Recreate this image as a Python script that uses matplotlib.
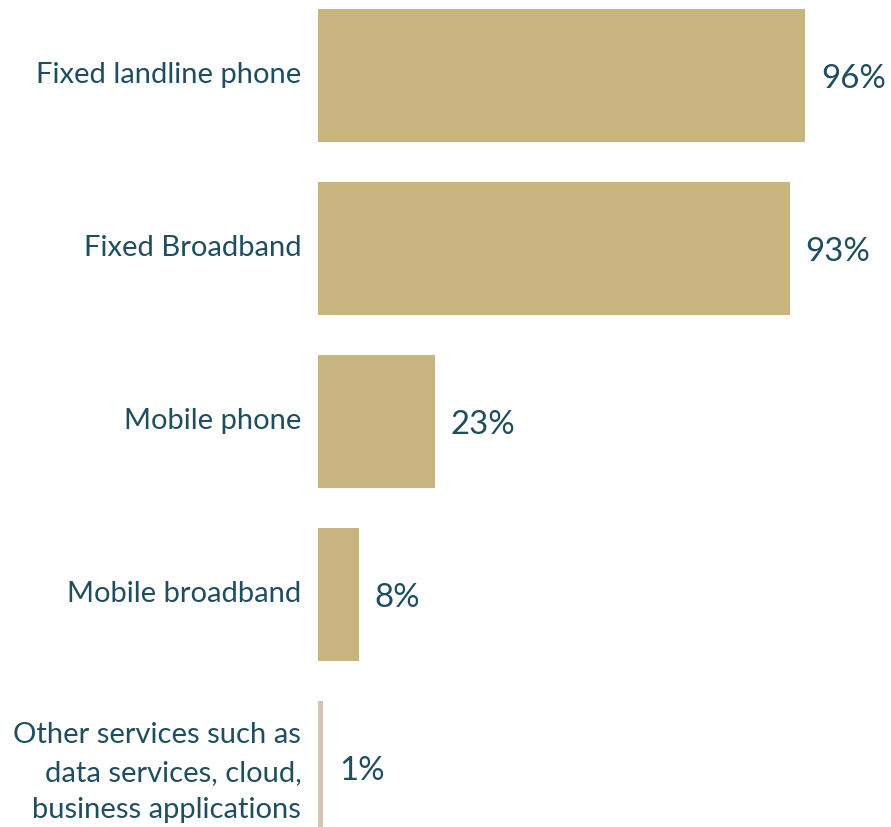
import matplotlib
matplotlib.use("Agg")
import matplotlib.pyplot as plt
from matplotlib.transforms import ScaledTranslation

categories = [
    "Fixed landline phone",
    "Fixed Broadband",
    "Mobile phone",
    "Mobile broadband",
    "Other services such as\ndata services, cloud,\nbusiness applications",
]
values = [96, 93, 23, 8, 1]
bar_colors = ["#c8b47f", "#c8b47f", "#c8b47f", "#c8b47f", "#cfc6b8"]
text_color = "#1f4e5f"

plt.rcParams["font.family"] = ["Lato", "DejaVu Sans"]

fig = plt.figure(figsize=(8.91, 8.28), dpi=100)
ax = fig.add_axes([318 / 891, 0, 1 - 318 / 891, 1])

ypos = list(range(len(categories)))
ax.barh(ypos, values, height=133 / 173, color=bar_colors, left=0)

ax.set_xlim(0, 113)
ax.set_ylim(4.344, -0.442)

for y, v in zip(ypos, values):
    ax.annotate(f"{v}%", xy=(v, y), xytext=(11.5, -2), textcoords="offset points",
                ha="left", va="center", fontsize=23.8, color=text_color)

ax.set_yticks(ypos)
ax.set_yticklabels(categories, fontsize=21, color=text_color, linespacing=1.55)
ax.tick_params(axis="y", length=0, pad=12)
# nudge the category labels slightly upward
shift = ScaledTranslation(0, 4 / 100, fig.dpi_scale_trans)
for lbl in ax.get_yticklabels():
    lbl.set_transform(lbl.get_transform() + shift)
ax.set_xticks([])
for s in ax.spines.values():
    s.set_visible(False)

fig.savefig("out.png", dpi=100)
